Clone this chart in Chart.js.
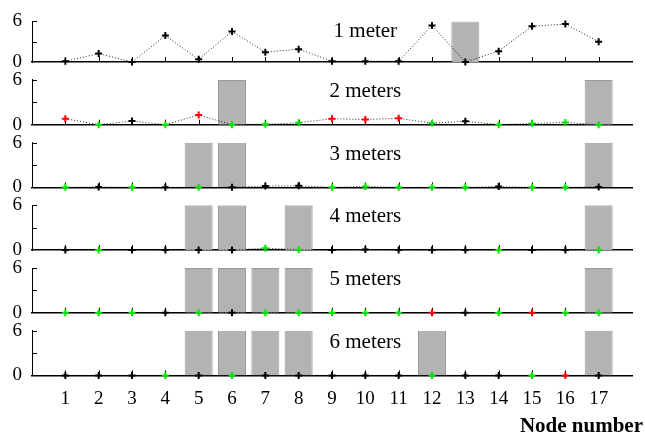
<!DOCTYPE html>
<html>
<head>
<meta charset="utf-8">
<script src="https://cdn.jsdelivr.net/npm/chart.js@4.4.0/dist/chart.umd.min.js"></script>
<style>
  body { margin: 0; background: #fff; }
  #wrap { position: relative; width: 645px; height: 434px; background: #fff; }
  #wrap canvas { position: absolute; left: 0; top: 0; }
</style>
</head>
<body>
<div id="wrap"></div>
<script>
const nodes = [1, 2, 3, 4, 5, 6, 7, 8, 9, 10, 11, 12, 13, 14, 15, 16, 17]
const titles = ['1 meter', '2 meters', '3 meters', '4 meters', '5 meters', '6 meters']

// values per distance
const meter1 = [0.1, 1.25, 0.0, 3.9, 0.4, 4.5, 1.45, 1.9, 0.12, 0.12, 0.12, 5.4, 0.0, 1.6, 5.3, 5.6, 3.0]
const meter2 = [0.8, 0.0, 0.48, 0.0, 1.3, 0.0, 0.05, 0.25, 0.8, 0.7, 0.85, 0.2, 0.45, 0.0, 0.15, 0.3, 0.0]
const meter3 = [0, 0.05, 0, 0, 0, 0, 0.17, 0.2, 0, 0.12, 0, 0, 0, 0.1, 0, 0, 0.05]
const meter4 = [0, 0, 0, 0, 0, 0, 0.25, 0.05, 0, 0.08, 0, 0, 0, 0, 0, 0, 0]
const meter5 = [0, 0, 0, 0, 0, 0, 0, 0, 0, 0, 0, 0, 0, 0, 0, 0, 0]
const meter6 = [0, 0, 0, 0, 0, 0, 0, 0, 0, 0, 0, 0, 0, 0, 0, 0, 0]

// marker colour per node: k = black, r = red, g = green
const colors1 = 'kkkkkkkkkkkkkkkkk'
const colors2 = 'rgkgrgggrrrgkgggg'
const colors3 = 'gkgkgkkkgggggkggk'
const colors4 = 'kgkkkkggkkkkkgkkg'
const colors5 = 'gggkgkgggggrkgrgg'
const colors6 = 'kkkgkgkkkkkgkkgrk'

// grey bars (nodes)
const bars1 = [13]
const bars2 = [6, 17]
const bars3 = [5, 6, 17]
const bars4 = [5, 6, 8, 17]
const bars5 = [5, 6, 7, 8, 17]
const bars6 = [5, 6, 7, 8, 12, 17]

const barTop = 6
const yTicks = [0, 3, 6]

const values = [meter1, meter2, meter3, meter4, meter5, meter6]
const colors = [colors1, colors2, colors3, colors4, colors5, colors6]
const bars = [bars1, bars2, bars3, bars4, bars5, bars6]

const colorMap = { k: '#000000', r: '#ff0000', g: '#00e600' }
const serif = "'Liberation Serif', 'DejaVu Serif', serif"

const decor = {
  id: 'decor',
  beforeDatasetsDraw(chart) {
    const { ctx, scales: { x, y } } = chart
    ctx.save()
    ctx.strokeStyle = '#000'
    ctx.lineWidth = 1
    ctx.beginPath()
    nodes.forEach((n) => {
      const px = Math.round(x.getPixelForValue(n)) + 0.5
      ctx.moveTo(px, y.getPixelForValue(0))
      ctx.lineTo(px, y.getPixelForValue(0) - 5)
    })
    yTicks.slice(1).forEach((v) => {
      const py = Math.round(y.getPixelForValue(v)) + 0.5
      ctx.moveTo(x.left, py)
      ctx.lineTo(x.left + 5, py)
    })
    ctx.stroke()
    ctx.restore()
  },
  afterDraw(chart) {
    const { ctx, scales: { x, y } } = chart
    const k = chart.options.plugins.decor.panel
    ctx.save()
    ctx.fillStyle = '#000'
    ctx.font = `21px ${serif}`
    ctx.textAlign = 'center'
    ctx.textBaseline = 'alphabetic'
    ctx.fillText(titles[k], x.getPixelForValue(10), y.getPixelForValue(3.7))
    if (k === 5) {
      ctx.font = `bold 21px ${serif}`
      ctx.textAlign = 'right'
      ctx.fillText('Node number', 643, 431.7)
    }
    ctx.restore()
  }
}

const wrap = document.getElementById('wrap')

function makePanel(k) {
  const canvas = document.createElement('canvas')
  canvas.width = 645
  canvas.height = 434
  canvas.style.width = '645px'
  canvas.style.height = '434px'
  wrap.appendChild(canvas)

  const top = 17.3 + k * 62.68
  const bottom = top + 44.7
  const last = k === 5
  const xHeight = last ? 40 : 0

  new Chart(canvas, {
    type: 'line',
    data: {
      datasets: [
        {
          type: 'line',
          data: nodes.map((n, i) => ({ x: n, y: values[k][i] })),
          borderColor: 'rgba(0,0,0,0.85)',
          borderWidth: 1,
          borderDash: [1, 2],
          tension: 0,
          pointStyle: 'cross',
          pointRadius: 3.5,
          pointHoverRadius: 3.5,
          pointBorderWidth: 2,
          pointBorderColor: colors[k].split('').map((c) => colorMap[c]),
          clip: false,
          order: 0
        },
        {
          type: 'bar',
          data: bars[k].map((n) => ({ x: n, y: barTop })),
          backgroundColor: '#b3b3b3',
          borderColor: '#999999',
          borderWidth: 1,
          barPercentage: 0.84,
          categoryPercentage: 1,
          order: 1
        }
      ]
    },
    options: {
      responsive: false,
      animation: false,
      devicePixelRatio: 1,
      layout: { padding: { top: top, bottom: 434 - bottom - xHeight, left: 0, right: 13 } },
      plugins: {
        legend: { display: false },
        tooltip: { enabled: false },
        decor: { panel: k }
      },
      scales: {
        x: {
          type: 'linear',
          min: 0,
          max: 18,
          offset: false,
          ticks: {
            stepSize: 1,
            autoSkip: false,
            maxRotation: 0,
            display: last,
            padding: 12,
            color: '#000',
            font: { family: serif, size: 19 },
            callback: (v) => (v >= 1 && v <= 17 ? v : '')
          },
          grid: { display: false, drawTicks: false, offset: false },
          border: { display: true, color: '#000', width: 1.5 },
          afterFit: (s) => { s.height = xHeight }
        },
        y: {
          min: 0,
          max: 6,
          ticks: {
            stepSize: 3,
            padding: 10,
            color: '#000',
            font: { family: serif, size: 19 },
            callback: (v) => (v === 3 ? '' : v)
          },
          grid: { display: false, drawTicks: false },
          border: { display: true, color: '#000', width: 1 },
          afterFit: (s) => { s.width = 32 }
        }
      }
    },
    plugins: [decor]
  })
}

for (let k = 0; k < 6; k++) makePanel(k)
</script>
</body>
</html>
